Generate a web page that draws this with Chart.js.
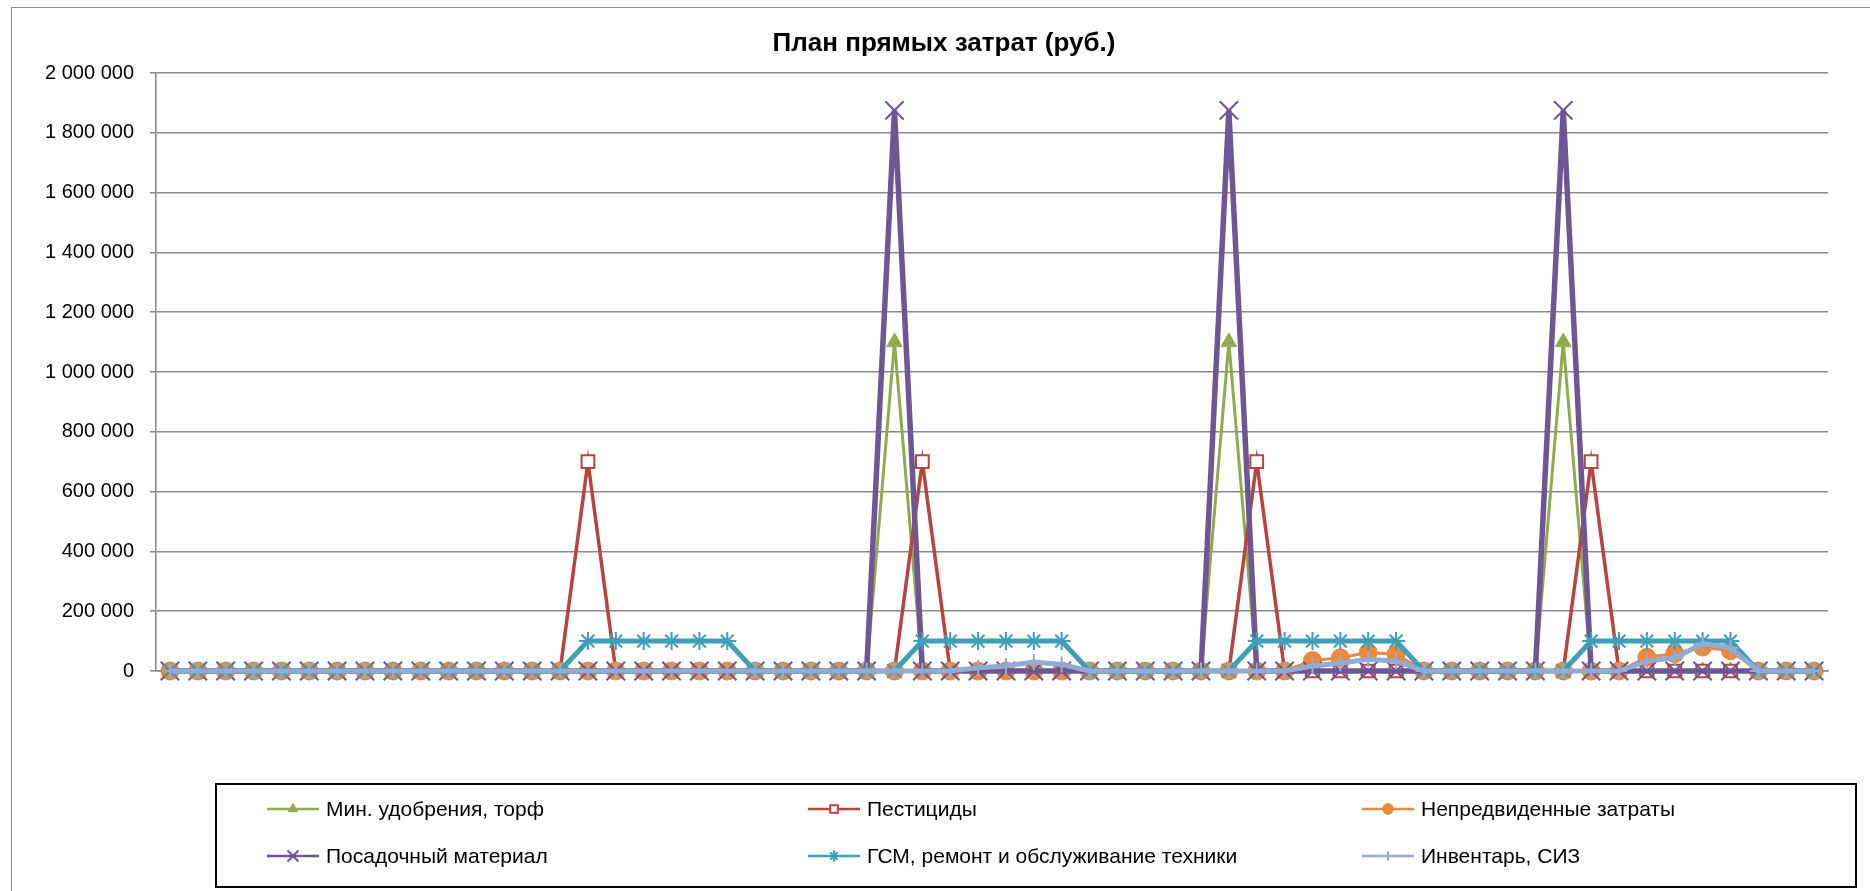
<!DOCTYPE html>
<html>
<head>
<meta charset="utf-8">
<script src="https://cdn.jsdelivr.net/npm/chart.js@4/dist/chart.umd.min.js"></script>
<style>
  html, body { margin: 0; padding: 0; background: #fff; overflow: hidden; }
  #wrap { position: absolute; left: 0; top: 0; width: 1888px; height: 891px; }
  #frame { position: absolute; left: 11px; top: 7px; width: 1900px; height: 1000px; border: 1px solid #8a8a8a; pointer-events: none; }
</style>
</head>
<body>
<div id="wrap"><canvas id="c"></canvas></div>
<div id="frame"></div>
<script>
// 60 months, 5 years
const months = [
  '1','2','3','4','5','6','7','8','9','10','11','12',
  '13','14','15','16','17','18','19','20','21','22','23','24',
  '25','26','27','28','29','30','31','32','33','34','35','36',
  '37','38','39','40','41','42','43','44','45','46','47','48',
  '49','50','51','52','53','54','55','56','57','58','59','60'
]

const fertilizer = [
  0,0,0,0,0,0,0,0,0,0,0,0,
  0,0,0,0,0,0,0,0,0,0,0,0,
  0,0,1100000,0,0,0,0,0,0,0,0,0,
  0,0,1100000,0,0,0,0,0,0,0,0,0,
  0,0,1100000,0,0,0,0,0,0,0,0,0
]
const pesticides = [
  0,0,0,0,0,0,0,0,0,0,0,0,
  0,0,0,700000,0,0,0,0,0,0,0,0,
  0,0,0,700000,0,0,0,0,0,0,0,0,
  0,0,0,700000,0,0,0,0,0,0,0,0,
  0,0,0,700000,0,0,0,0,0,0,0,0
]
const unforeseen = [
  0,0,0,0,0,0,0,0,0,0,0,0,
  0,0,0,0,0,0,0,0,0,0,0,0,
  0,0,0,0,0,0,0,0,0,0,0,0,
  0,0,0,0,0,35000,44000,62000,56000,0,0,0,
  0,0,0,0,0,46000,58000,80000,68000,0,0,0
]
const planting = [
  0,0,0,0,0,0,0,0,0,0,0,0,
  0,0,0,0,0,0,0,0,0,0,0,0,
  0,0,1875000,0,0,0,0,0,0,0,0,0,
  0,0,1875000,0,0,0,0,0,0,0,0,0,
  0,0,1875000,0,0,0,0,0,0,0,0,0
]
const fuel = [
  0,0,0,0,0,0,0,0,0,0,0,0,
  0,0,0,100000,100000,100000,100000,100000,100000,0,0,0,
  0,0,0,100000,100000,100000,100000,100000,100000,0,0,0,
  0,0,0,100000,100000,100000,100000,100000,100000,0,0,0,
  0,0,0,100000,100000,100000,100000,100000,100000,0,0,0
]
const inventory = [
  0,0,0,0,0,0,0,0,0,0,0,0,
  0,0,0,0,0,0,0,0,0,0,0,0,
  0,0,0,0,0,11000,17000,30000,22000,0,0,0,
  0,0,0,0,0,17000,26000,39000,33000,0,0,0,
  0,0,0,0,0,33000,44000,91000,78000,0,0,0
]

const seriesNames = ['Мин. удобрения, торф', 'Пестициды', 'Непредвиденные затраты',
                     'Посадочный материал', 'ГСМ, ремонт и обслуживание техники', 'Инвентарь, СИЗ']
const yTicks = [0, 200000, 400000, 600000, 800000, 1000000, 1200000, 1400000, 1600000, 1800000, 2000000]

const FONT = '"Liberation Sans", Arial, sans-serif'

const styles = [
  {color: '#8EAC4D', width: 3,   point: 'triangle', r: 9,  fill: '#8EAC4D', bw: 1},
  {color: '#B8433F', width: 3.5, point: 'rect',     r: 9,  fill: '#ffffff', bw: 2},
  {color: '#E8893C', width: 3,   point: 'circle',   r: 9,  fill: '#E8893C', bw: 1},
  {color: '#6E5593', width: 5.5, point: 'crossRot', r: 13, fill: '#6E5593', bw: 2},
  {color: '#3F9FB8', width: 5,   point: 'star',     r: 9,  fill: '#3F9FB8', bw: 2},
  {color: '#92ABD3', width: 5,   point: 'cross',    r: 8,  fill: '#92ABD3', bw: 2},
]
const values = [fertilizer, pesticides, unforeseen, planting, fuel, inventory]

const datasets = values.map((v, i) => {
  const s = styles[i]
  return {
    label: seriesNames[i],
    data: v,
    borderColor: s.color,
    backgroundColor: s.fill,
    borderWidth: s.width,
    pointStyle: s.point,
    pointRadius: s.r,
    pointBackgroundColor: s.fill,
    pointBorderColor: s.color,
    pointBorderWidth: s.bw,
    tension: 0,
    fill: false,
    clip: false,
    order: 5 - i   // later series painted on top, like the original
  }
})

function fmt(v) {
  return String(v).replace(/\B(?=(\d{3})+(?!\d))/g, ' ')
}

// legend in a framed box, 3 columns x 2 rows
const legendCols = [267, 808, 1362]
const legendRows = [809, 856]
const boxLegend = {
  id: 'boxLegend',
  afterDraw(chart) {
    const ctx = chart.ctx
    ctx.save()
    ctx.strokeStyle = '#000'
    ctx.lineWidth = 2
    ctx.strokeRect(216, 784, 1640, 103)
    ctx.font = '21px ' + FONT
    ctx.textBaseline = 'middle'
    ctx.textAlign = 'left'
    chart.data.datasets.forEach((ds, i) => {
      const s = styles[i]
      const x = legendCols[i % 3]
      const y = legendRows[Math.floor(i / 3)]
      ctx.strokeStyle = s.color
      ctx.lineWidth = 2.5
      ctx.beginPath()
      ctx.moveTo(x, y)
      ctx.lineTo(x + 52, y)
      ctx.stroke()
      ctx.fillStyle = s.fill
      ctx.lineWidth = s.bw
      Chart.helpers.drawPoint(ctx, {pointStyle: s.point, radius: s.r * 0.6, rotation: 0, borderWidth: s.bw}, x + 26, y)
      ctx.fillStyle = '#000'
      ctx.fillText(ds.label, x + 59, y + 1)
    })
    ctx.restore()
  }
}

new Chart(document.getElementById('c'), {
  type: 'line',
  data: {labels: months, datasets: datasets},
  options: {
    responsive: true,
    maintainAspectRatio: false,
    animation: false,
    layout: {padding: {left: 0, right: 0, top: 0, bottom: 220}},
    plugins: {
      legend: {display: false},
      tooltip: {enabled: false},
      title: {
        display: true,
        text: 'План прямых затрат (руб.)',
        color: '#000',
        font: {family: FONT, size: 26, weight: 'bold', lineHeight: 1.2},
        padding: {top: 28.4, bottom: 13.4}
      }
    },
    scales: {
      x: {
        type: 'category',
        offset: true,
        ticks: {display: false},
        grid: {display: false, drawTicks: false},
        border: {display: true, color: '#8a8a8a', width: 1.6},
        afterFit(s) { s.height = 0 }
      },
      y: {
        min: 0,
        max: 2000000,
        afterBuildTicks(s) { s.ticks = yTicks.map(v => ({value: v})) },
        ticks: {
          color: '#000',
          padding: 16,
          font: {family: FONT, size: 20},
          callback: v => fmt(v)
        },
        grid: {color: '#8a8a8a', lineWidth: 1.6, tickLength: 6, drawTicks: true},
        border: {display: true, color: '#8a8a8a', width: 1.6},
        afterFit(s) { s.width = 156 }
      },
      // empty spacer on the right so the title stays centred on the whole chart
      spacer: {
        position: 'right',
        display: true,
        ticks: {display: false},
        grid: {display: false, drawTicks: false},
        border: {display: false},
        afterFit(s) { s.width = 60 }
      }
    }
  },
  plugins: [boxLegend]
})
</script>
</body>
</html>
